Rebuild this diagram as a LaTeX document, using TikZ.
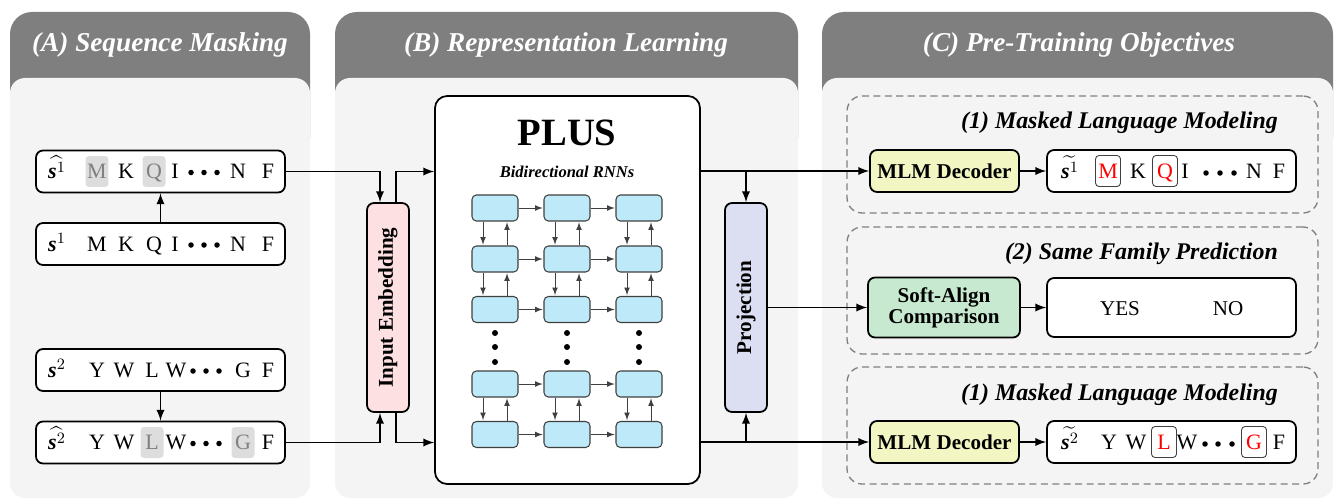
\documentclass[tikz,border=0pt]{standalone}
\usepackage{amsmath,amssymb}
\usepackage{fontspec}
\setmainfont{Liberation Serif}
\usepackage{tikz}
\usetikzlibrary{arrows,positioning}
\definecolor{hdrgray}{HTML}{7F7F7F}
\definecolor{panelgray}{HTML}{F4F4F4}
\definecolor{embpink}{HTML}{FDE0E1}
\definecolor{projblue}{HTML}{DCDEF1}
\definecolor{mlmyellow}{HTML}{F1F6C2}
\definecolor{softgreen}{HTML}{C6E9CF}
\definecolor{cellblue}{HTML}{BDE9F8}
\definecolor{maskgray}{HTML}{DDDDDD}
\tikzset{%
panelhead/.style={fill=hdrgray, rounded corners=0.44cm},
panelbody/.style={fill=panelgray, rounded corners=0.3cm},
headtxt/.style={text=white, font=\fontsize{15.5}{18}\selectfont\bfseries\itshape},
famframe/.style={draw=gray, dashed, dash pattern=on 4pt off 2.5pt, line width=0.75pt, rounded corners=0.3cm, minimum width=9.42cm},
famtxt/.style={font=\fontsize{13.6}{16}\selectfont\bfseries\itshape},
seqbox/.style={draw, line width=1pt, rounded corners=4pt, fill=white, minimum width=4.98cm, minimum height=0.84cm},
aa/.style={inner sep=0pt, text height=8.3pt, text depth=0pt, font=\fontsize{12.5}{15}\selectfont},
masked/.style={aa, fill=maskgray, text=gray, rounded corners=2pt, minimum width=0.46cm, minimum height=0.62cm},
pred/.style={aa, draw=darkgray, line width=0.5pt, text=red, rounded corners=2pt, minimum width=0.5cm, minimum height=0.62cm},
vbox/.style={draw, line width=1pt, rounded corners=4pt, minimum width=0.84cm, minimum height=4.18cm},
decbox/.style={draw, line width=1pt, rounded corners=4pt, minimum width=2.98cm, minimum height=0.84cm, align=center, font=\fontsize{12}{14}\selectfont\bfseries},
boxtxt/.style={font=\fontsize{12}{14}\selectfont\bfseries},
cell/.style={draw=black!75, line width=0.6pt, fill=cellblue, rounded corners=2.5pt, minimum width=0.92cm, minimum height=0.52cm},
conn/.style={draw, line width=1.1pt, ->, >=latex},
thinarr/.style={draw=black!75, line width=0.5pt, ->, >=latex, shorten >=0.5pt}
}
\begin{document}
\begin{tikzpicture}[x=0.02cm, y=-0.02cm]
\useasboundingbox (0,0) rectangle (1334,500);

% panels
\fill[panelhead] (10,12) rectangle (310,160);
\fill[panelbody] (10,78) rectangle (310,498);
\fill[panelhead] (335,12) rectangle (798,160);
\fill[panelbody] (335,78) rectangle (798,498);
\fill[panelhead] (822,12) rectangle (1333,160);
\fill[panelbody] (822,78) rectangle (1333,498);
\node[headtxt] (hA) at (160,45) {(A) Sequence Masking};
\node[headtxt] (hB) at (566,45) {(B) Representation Learning};
\node[headtxt] (hC) at (1079,45) {(C) Pre-Training Objectives};

% (A) sequences
\node[seqbox] (hs1) at (160.5,171.5) {};
\node[aa] (hs1-lab) at (57,171.5) {$\widehat{\textbf{\textit{s}}^{1}}$};
\foreach \x/\t [count=\i] in {126/K,175/I,238/N,268/F}
	\node[aa] (hs1-\i) at (\x,171.5) {\t};
\foreach \x/\t [count=\i] in {97/M,154/Q}
	\node[masked] (hs1-m\i) at (\x,171.5) {\t};
\foreach \x in {191,204,217} \fill (\x,172.5) circle (0.055cm);

\node[seqbox] (s1) at (160.5,244) {};
\node[aa] (s1-lab) at (57,244) {$\textbf{\textit{s}}^{1}$};
\foreach \x/\t [count=\i] in {97/M,126/K,154/Q,175/I,238/N,268/F}
	\node[aa] (s1-\i) at (\x,244) {\t};
\foreach \x in {191,204,217} \fill (\x,245) circle (0.055cm);

\node[seqbox] (s2) at (160.5,370) {};
\node[aa] (s2-lab) at (57,370) {$\textbf{\textit{s}}^{2}$};
\foreach \x/\t [count=\i] in {97/Y,124/W,152/L,176/W,243/G,268/F}
	\node[aa] (s2-\i) at (\x,370) {\t};
\foreach \x in {193,206,219} \fill (\x,371) circle (0.055cm);

\node[seqbox] (hs2) at (160.5,442.5) {};
\node[aa] (hs2-lab) at (57,442.5) {$\widehat{\textbf{\textit{s}}^{2}}$};
\foreach \x/\t [count=\i] in {97/Y,124/W,176/W,268/F}
	\node[aa] (hs2-\i) at (\x,442.5) {\t};
\foreach \x/\t [count=\i] in {152/L,243/G}
	\node[masked] (hs2-m\i) at (\x,442.5) {\t};
\foreach \x in {193,206,219} \fill (\x,443.5) circle (0.055cm);

% (B) encoder
\node[vbox, fill=embpink] (embed) at (388,307.5) {};
\node[boxtxt, rotate=90] (embed-t) at (embed) {Input Embedding};
\node[draw, line width=1pt, fill=white, rounded corners=0.24cm, minimum width=5.3cm, minimum height=7.76cm] (plus) at (567.5,290) {};
\node[font=\fontsize{22}{24}\selectfont\bfseries] (plus-t) at (567,133) {PLUS};
\node[font=\fontsize{9.4}{11}\selectfont\bfseries\itshape] (rnn-t) at (567,172) {Bidirectional RNNs};
\foreach \r/\y in {1/208,2/259,3/309.5,4/384,5/434.5}
	\foreach \c/\x in {1/495,2/567,3/639}
		\node[cell] (c\r\c) at (\x,\y) {};
\foreach \r in {1,...,5}
	\foreach \c/\n in {1/2,2/3}
		\draw[thinarr] (c\r\c) -- (c\r\n);
\foreach \r/\n in {1/2,2/3,4/5}
	\foreach \c in {1,2,3} {
		\draw[thinarr] ([xshift=-0.24cm]c\r\c.south) -- ([xshift=-0.24cm]c\n\c.north);
		\draw[thinarr] ([xshift=0.24cm]c\n\c.north) -- ([xshift=0.24cm]c\r\c.south);
	}
\foreach \x in {495,567,639}
	\foreach \y in {333,347,362}
		\fill (\x,\y) circle (0.06cm);
\node[vbox, fill=projblue] (proj) at (746,307.5) {};
\node[boxtxt, rotate=90] (proj-t) at (proj) {Projection};

% (C) objectives
\node[famframe, minimum height=2.34cm] (fam1) at (1082.5,154.5) {};
\node[famframe, minimum height=2.54cm] (fam2) at (1082.5,290.5) {};
\node[famframe, minimum height=2.34cm] (fam3) at (1082.5,425.5) {};
\node[famtxt, anchor=east] (fam1-t) at (1284,123) {(1) Masked Language Modeling};
\node[famtxt, anchor=east] (fam2-t) at (1284,254) {(2) Same Family Prediction};
\node[famtxt, anchor=east] (fam3-t) at (1284,395) {(1) Masked Language Modeling};

\node[decbox, fill=mlmyellow] (mlm1) at (944.5,171) {MLM Decoder};
\node[decbox, fill=softgreen, minimum width=3.04cm, minimum height=1.2cm] (soft) at (944,307.5) {Soft-Align\\[-2pt]Comparison};
\node[decbox, fill=mlmyellow] (mlm2) at (944.5,442) {MLM Decoder};

\node[seqbox] (out1) at (1171.5,171) {};
\node[aa] (out1-lab) at (1070,171) {$\widetilde{\textbf{\textit{s}}^{1}}$};
\foreach \x/\t [count=\i] in {1138/K,1185/I,1254/N,1279/F}
	\node[aa] (out1-\i) at (\x,171) {\t};
\foreach \x/\t [count=\i] in {1108/M,1165/Q}
	\node[pred] (out1-p\i) at (\x,171) {\t};
\foreach \x in {1206,1220,1234} \fill (\x,173) circle (0.055cm);

\node[seqbox, minimum height=1.18cm] (yesno) at (1171.5,307.5) {};
\node[aa, font=\fontsize{12}{14}\selectfont] (yes) at (1120,308) {YES};
\node[aa, font=\fontsize{12}{14}\selectfont] (no) at (1228,308) {NO};

\node[seqbox] (out2) at (1171.5,442) {};
\node[aa] (out2-lab) at (1070,442) {$\widetilde{\textbf{\textit{s}}^{2}}$};
\foreach \x/\t [count=\i] in {1109/Y,1136/W,1187/W,1279/F}
	\node[aa] (out2-\i) at (\x,442) {\t};
\foreach \x/\t [count=\i] in {1164/L,1254/G}
	\node[pred] (out2-p\i) at (\x,442) {\t};
\foreach \x in {1205,1218,1232} \fill (\x,444) circle (0.055cm);

% connectors
\draw[conn] (s1) -- (hs1);
\draw[conn] (s2) -- (hs2);
\draw[conn] (hs1.east) -| ([xshift=-0.16cm]embed.north);
\draw[conn] ([xshift=0.16cm]embed.north) |- (plus.west |- hs1.east);
\draw[conn] (hs2.east) -| ([xshift=-0.16cm]embed.south);
\draw[conn] ([xshift=0.16cm]embed.south) |- (plus.west |- hs2.east);
\draw[conn] (plus.east |- mlm1.west) -- (mlm1.west);
\draw[conn] (proj.north |- mlm1.west) -- (proj.north);
\draw[conn] (plus.east |- mlm2.west) -- (mlm2.west);
\draw[conn] (proj.south |- mlm2.west) -- (proj.south);
\draw[conn] (proj.east) -- (soft.west);
\draw[conn] (mlm1) -- (out1);
\draw[conn] (soft) -- (yesno);
\draw[conn] (mlm2) -- (out2);
\end{tikzpicture}
\end{document}
